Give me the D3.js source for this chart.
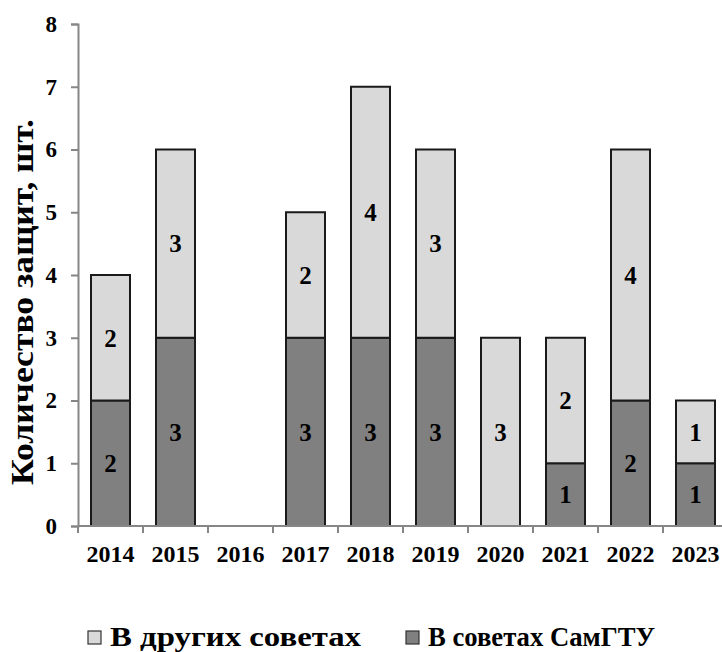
<!DOCTYPE html>
<html>
<head>
<meta charset="utf-8">
<script src="https://cdn.jsdelivr.net/npm/d3@7"></script>
<style>
  body { margin: 0; background: #fff; }
  text { font-family: "Liberation Serif", "Times New Roman", serif; font-weight: bold; }
</style>
</head>
<body>
<svg width="722" height="652"></svg>
<script>
var years = ["2014", "2015", "2016", "2017", "2018", "2019", "2020", "2021", "2022", "2023"];
var samgtu = [2, 3, 0, 3, 3, 3, 0, 1, 2, 1];
var other = [2, 3, 0, 2, 4, 3, 3, 2, 4, 1];
var yTicks = [0, 1, 2, 3, 4, 5, 6, 7, 8];
var seriesNames = ["В других советах", "В советах СамГТУ"];

var svg = d3.select("svg");
var darkFill = "#808080";
var lightFill = "#d9d9d9";
var axisColor = "#868686";

var plotLeft = 78, plotRight = 728, plotTop = 24, plotBottom = 526;

var x = d3.scaleBand().domain(years).range([plotLeft, plotRight]).paddingInner(0.4).paddingOuter(0.2);
var y = d3.scaleLinear().domain([0, 8]).range([plotBottom, plotTop]);

// stacked data
var rows = years.map(function(d, i) {
    return { year: d, samgtu: samgtu[i], other: other[i] };
});
var layers = d3.stack().keys(["samgtu", "other"])(rows);
var fills = { samgtu: darkFill, other: lightFill };

// y axis
var yaxis = d3.axisLeft(y).tickValues(yTicks).tickSize(7).tickPadding(14).tickFormat(d3.format("d"));
var gy = svg.append("g").attr("transform", "translate(" + plotLeft + ",0)").call(yaxis);
gy.select(".domain").attr("stroke", axisColor).attr("stroke-width", 2);
gy.selectAll(".tick line").attr("stroke", axisColor).attr("stroke-width", 2);
gy.selectAll(".tick text").attr("font-size", 23).attr("fill", "#000")
    .style("font-family", "Liberation Serif").style("font-weight", "bold");

// bars
layers.forEach(function(layer) {
    var segs = layer.filter(function(d) { return d[1] - d[0] > 0; });

    svg.append("g").selectAll("rect")
        .data(segs)
        .enter()
        .append("rect")
        .attr("x", function(d) { return x(d.data.year); })
        .attr("y", function(d) { return y(d[1]); })
        .attr("width", x.bandwidth())
        .attr("height", function(d) { return y(d[0]) - y(d[1]); })
        .attr("fill", fills[layer.key])
        .attr("stroke", "#1a1a1a")
        .attr("stroke-width", 2);

    svg.append("g").selectAll("text")
        .data(segs)
        .enter()
        .append("text")
        .attr("x", function(d) { return x(d.data.year) + x.bandwidth() / 2; })
        .attr("y", function(d) { return y((d[0] + d[1]) / 2); })
        .attr("dy", "0.35em")
        .attr("text-anchor", "middle")
        .attr("font-size", 25)
        .text(function(d) { return d[1] - d[0]; });
});

// x axis
var gx = svg.append("g").attr("transform", "translate(0," + plotBottom + ")");
gx.append("line").attr("x1", plotLeft).attr("x2", plotRight).attr("stroke", axisColor).attr("stroke-width", 2);
gx.selectAll("line.tk")
    .data(years)
    .enter()
    .append("line")
    .attr("class", "tk")
    .attr("x1", function(d) { return x(d) - x.step() * x.paddingOuter(); })
    .attr("x2", function(d) { return x(d) - x.step() * x.paddingOuter(); })
    .attr("y1", 0).attr("y2", 7)
    .attr("stroke", axisColor).attr("stroke-width", 2);
gx.selectAll("text")
    .data(years)
    .enter()
    .append("text")
    .attr("x", function(d) { return x(d) + x.bandwidth() / 2; })
    .attr("y", 36)
    .attr("text-anchor", "middle")
    .attr("font-size", 24)
    .text(function(d) { return d; });

// y axis title
svg.append("text")
    .attr("transform", "translate(33,302) rotate(-90)")
    .attr("text-anchor", "middle")
    .attr("font-size", 32)
    .attr("textLength", 366)
    .attr("lengthAdjust", "spacingAndGlyphs")
    .text("Количество защит, шт.");

// legend
var legendX = [88, 406];
var legendLen = [251, 227];
var legendFill = [lightFill, darkFill];
seriesNames.forEach(function(name, i) {
    svg.append("rect")
        .attr("x", legendX[i]).attr("y", 631)
        .attr("width", 13).attr("height", 13)
        .attr("fill", legendFill[i])
        .attr("stroke", "#333").attr("stroke-width", 1.2);
    svg.append("text")
        .attr("x", legendX[i] + 22).attr("y", 646)
        .attr("font-size", 28)
        .attr("textLength", legendLen[i])
        .attr("lengthAdjust", "spacingAndGlyphs")
        .text(name);
});
</script>
</body>
</html>
